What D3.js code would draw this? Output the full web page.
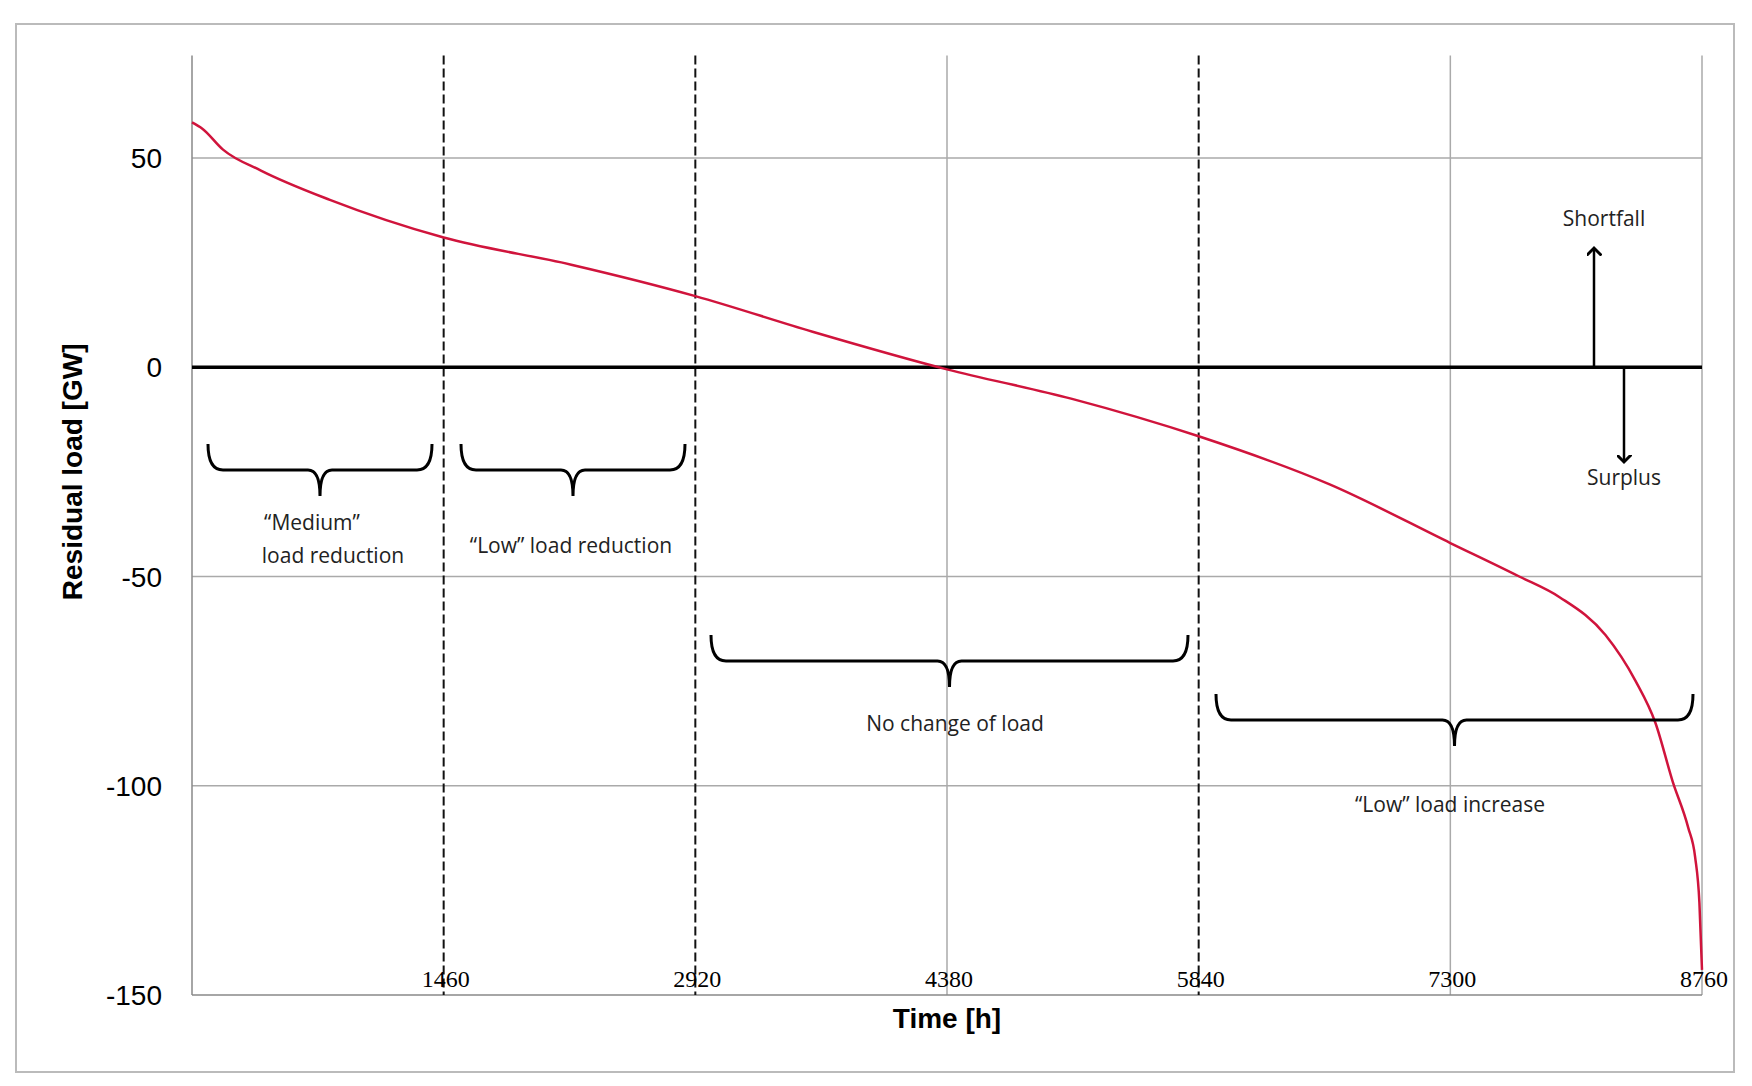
<!DOCTYPE html>
<html><head><meta charset="utf-8">
<script src="https://cdn.jsdelivr.net/npm/d3@7"></script>
<style>body{margin:0;background:#fff}</style>
</head><body>
<svg id="chart" width="1752" height="1086"></svg>
<script>
// residual load duration curve
var hours = [0, 60, 180, 400, 800, 1460, 2200, 2920, 3600, 4380, 5100, 5840, 6600, 7300, 7700, 7936, 8200, 8375, 8490, 8590, 8680, 8720, 8745, 8760]
var load = [58.5, 57, 52, 47, 40, 31, 24.5, 17, 8.5, -0.5, -7.5, -16.5, -28, -42, -50, -55, -64, -75, -85, -99, -110, -117, -128, -144]
var yTicks = [50, 0, -50, -100, -150]
var xTicks = [1460, 2920, 4380, 5840, 7300, 8760]
var dashed = [1460, 2920, 5840]
var grayV = [4380, 7300, 8760]

var svg = d3.select("#chart")
var x = d3.scaleLinear().domain([0, 8760]).range([192, 1702])
var y = d3.scaleLinear().domain([50, -150]).range([158, 995])
var plotTop = y(74.5)

svg.append("rect").attr("x", 16).attr("y", 24).attr("width", 1718).attr("height", 1048)
    .attr("fill", "none").attr("stroke", "#bbb").attr("stroke-width", 2)

// gray grid
svg.selectAll(".hg").data([50, -50, -100]).enter().append("line")
    .attr("x1", x(0)).attr("x2", x(8760)).attr("y1", d => y(d)).attr("y2", d => y(d))
    .attr("stroke", "#aaa").attr("stroke-width", 1.5)
svg.selectAll(".vg").data(grayV).enter().append("line")
    .attr("x1", d => x(d)).attr("x2", d => x(d)).attr("y1", plotTop).attr("y2", y(-150))
    .attr("stroke", "#aaa").attr("stroke-width", 1.5)
svg.append("line").attr("x1", x(0)).attr("x2", x(0)).attr("y1", plotTop).attr("y2", y(-150))
    .attr("stroke", "#888").attr("stroke-width", 1.5)
svg.append("line").attr("x1", x(0)).attr("x2", x(8760)).attr("y1", y(-150)).attr("y2", y(-150))
    .attr("stroke", "#888").attr("stroke-width", 1.5)
svg.selectAll(".dv").data(dashed).enter().append("line")
    .attr("x1", d => x(d)).attr("x2", d => x(d)).attr("y1", plotTop).attr("y2", y(-150))
    .attr("stroke", "#111").attr("stroke-width", 2).attr("stroke-dasharray", "9,4")
svg.append("line").attr("x1", x(0)).attr("x2", x(8760)).attr("y1", y(0)).attr("y2", y(0))
    .attr("stroke", "#000").attr("stroke-width", 3.5)

// curve
svg.append("path").datum(hours.map((h, i) => [h, load[i]]))
    .attr("d", d3.line().x(d => x(d[0])).y(d => y(d[1])).curve(d3.curveMonotoneX))
    .attr("fill", "none").attr("stroke", "#d0143c").attr("stroke-width", 2.5)

// ticks
svg.selectAll(".yt").data(yTicks).enter().append("text")
    .attr("x", 162).attr("y", d => y(d) + 10).attr("text-anchor", "end")
    .attr("font-family", "Liberation Sans, Arial").attr("font-size", 28).text(d => d)
svg.selectAll(".xt").data(xTicks).enter().append("text")
    .attr("x", d => x(d) + 2).attr("y", y(-150) - 8).attr("text-anchor", "middle")
    .attr("font-family", "Liberation Serif, serif").attr("font-size", 24).text(d => d)

svg.append("text").attr("x", x(4380)).attr("y", 1028).attr("text-anchor", "middle")
    .attr("font-family", "Liberation Sans, Arial").attr("font-weight", "bold").attr("font-size", 28).text("Time [h]")
svg.append("text").attr("transform", "translate(82," + y(-25) + ") rotate(-90)").attr("text-anchor", "middle")
    .attr("font-family", "Liberation Sans, Arial").attr("font-weight", "bold").attr("font-size", 28).text("Residual load [GW]")

// braces
var brace = function(x1, x2, yy, h)
{
    var m = (x1 + x2) / 2
    var p = "M" + x1 + "," + (yy - h) + " Q" + x1 + "," + yy + " " + (x1 + 15) + "," + yy
        + " L" + (m - 12) + "," + yy + " Q" + m + "," + yy + " " + m + "," + (yy + h)
        + " Q" + m + "," + yy + " " + (m + 12) + "," + yy
        + " L" + (x2 - 15) + "," + yy + " Q" + x2 + "," + yy + " " + x2 + "," + (yy - h)
    svg.append("path").attr("d", p).attr("fill", "none").attr("stroke", "#000").attr("stroke-width", 3)
}
brace(208, 432, 470, 26)
brace(461, 685, 470, 26)
brace(711, 1188, 661, 26)
brace(1216, 1693, 720, 26)

var label = function(t, xx, yy)
{
    svg.append("text").attr("x", xx).attr("y", yy).attr("text-anchor", "middle")
        .attr("font-family", "Open Sans, sans-serif").attr("font-size", 21).attr("fill", "#222").text(t)
}
label("\u201cMedium\u201d", 312, 530)
label("load reduction", 333, 563)
label("\u201cLow\u201d load reduction", 571, 553)
label("No change of load", 955, 731)
label("\u201cLow\u201d load increase", 1450, 812)
label("Shortfall", 1604, 226)
label("Surplus", 1624, 485)

// arrows
svg.append("defs").append("marker").attr("id", "ah").attr("viewBox", "0 0 10 10")
    .attr("refX", 5).attr("refY", 5).attr("markerWidth", 6).attr("markerHeight", 6)
    .attr("orient", "auto-start-reverse")
    .append("path").attr("d", "M0,0 L5,5 L0,10").attr("fill", "none").attr("stroke", "#000").attr("stroke-width", 2)
svg.append("line").attr("x1", 1594).attr("x2", 1594).attr("y1", y(0)).attr("y2", 248)
    .attr("stroke", "#000").attr("stroke-width", 2.5).attr("marker-end", "url(#ah)")
svg.append("line").attr("x1", 1624).attr("x2", 1624).attr("y1", y(0)).attr("y2", 462)
    .attr("stroke", "#000").attr("stroke-width", 2.5).attr("marker-end", "url(#ah)")
</script>
</body></html>
